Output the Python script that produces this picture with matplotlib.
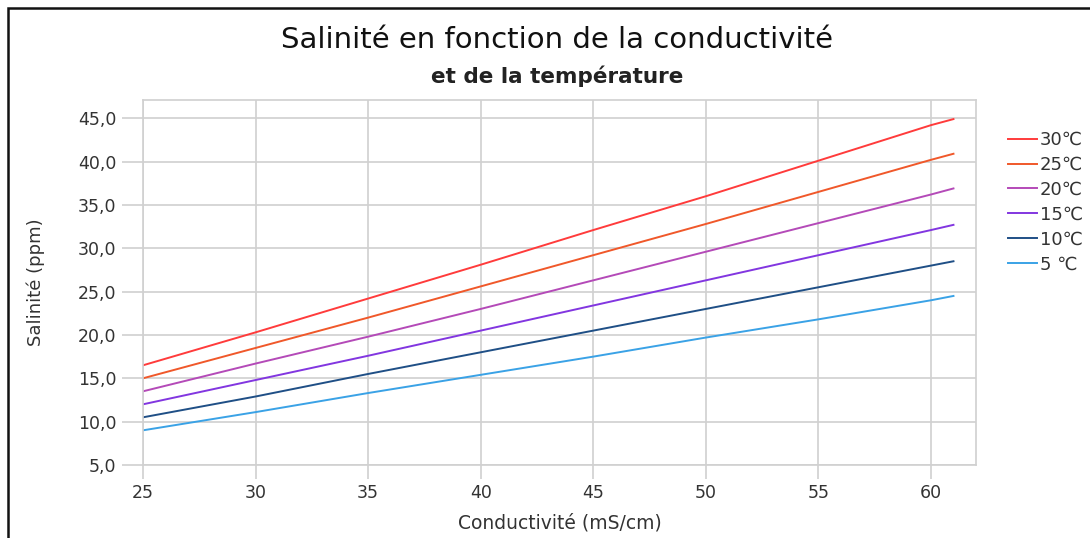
import matplotlib
matplotlib.use('Agg')
import matplotlib.pyplot as plt
from matplotlib.patches import Rectangle
from matplotlib.ticker import FuncFormatter

plt.rcParams['font.family'] = ['DejaVu Sans']

# conductivite (mS/cm)
conductivite = [25, 30, 35, 40, 45, 50, 55, 60, 61]

# salinite (ppm) par temperature
sal_30 = [16.5, 20.3, 24.2, 28.1, 32.1, 36.0, 40.1, 44.2, 44.9]
sal_25 = [15.0, 18.5, 22.0, 25.6, 29.2, 32.8, 36.5, 40.2, 40.9]
sal_20 = [13.5, 16.7, 19.8, 23.0, 26.3, 29.6, 32.9, 36.2, 36.9]
sal_15 = [12.0, 14.8, 17.6, 20.5, 23.4, 26.3, 29.2, 32.1, 32.7]
sal_10 = [10.5, 12.9, 15.5, 18.0, 20.5, 23.0, 25.5, 28.0, 28.5]
sal_5 = [9.0, 11.1, 13.3, 15.4, 17.5, 19.7, 21.8, 24.0, 24.5]

labels = ['30℃', '25℃', '20℃', '15℃', '10℃', '5 ℃']
couleurs = ['#ff3b3b', '#f0582a', '#b44ab8', '#8236e0', '#1f4f86', '#3aa2e6']
series = [sal_30, sal_25, sal_20, sal_15, sal_10, sal_5]

fig = plt.figure(figsize=(10.9, 5.38), dpi=100)
ax = fig.add_axes([0.1312, 0.1357, 0.7642, 0.6784])

for s, c, lab in zip(series, couleurs, labels):
    ax.plot(conductivite, s, color=c, lw=1.4, label=lab)

ax.set_xlim(25, 62)
ax.set_ylim(5, 47.1)
ax.set_xticks([25, 30, 35, 40, 45, 50, 55, 60])
ax.set_yticks([5, 10, 15, 20, 25, 30, 35, 40, 45])
ax.yaxis.set_major_formatter(FuncFormatter(lambda v, p: ('%.1f' % v).replace('.', ',')))
ax.grid(True, color='#d0d0d0', lw=1.2)
ax.set_axisbelow(True)
ax.tick_params(axis='y', length=15, color='#d0d0d0', width=1.2, labelsize=12.5,
               labelcolor='#333333', pad=4)
ax.tick_params(axis='x', length=10, color='#d0d0d0', width=1.2, labelsize=12.5,
               labelcolor='#333333', pad=4)
for sp in ax.spines.values():
    sp.set_color('#d0d0d0')
    sp.set_linewidth(1.2)

ax.set_xlabel('Conductivité (mS/cm)', fontsize=13.5, color='#333333', labelpad=8)
ax.set_ylabel('Salinité (ppm)', fontsize=13, color='#333333', labelpad=24)

fig.text(0.511, 0.925, 'Salinité en fonction de la conductivité', ha='center',
         va='center', fontsize=21, color='#111111')
fig.text(0.511, 0.858, 'et de la température', ha='center', va='center',
         fontsize=15.5, fontweight='bold', color='#222222')

ax.legend(loc='upper left', bbox_to_anchor=(1.03, 0.935), frameon=False,
          fontsize=13, handlelength=1.6, handletextpad=0.15, labelspacing=0.38,
          labelcolor='#333333', borderaxespad=0)

# cadre exterieur
fig.patches.append(Rectangle((8 / 1090, -0.1), 1.2, 1 - 8 / 538 + 0.1,
                             transform=fig.transFigure, fill=False,
                             edgecolor='#111111', lw=1.8))

fig.savefig('out.png', dpi=100)
